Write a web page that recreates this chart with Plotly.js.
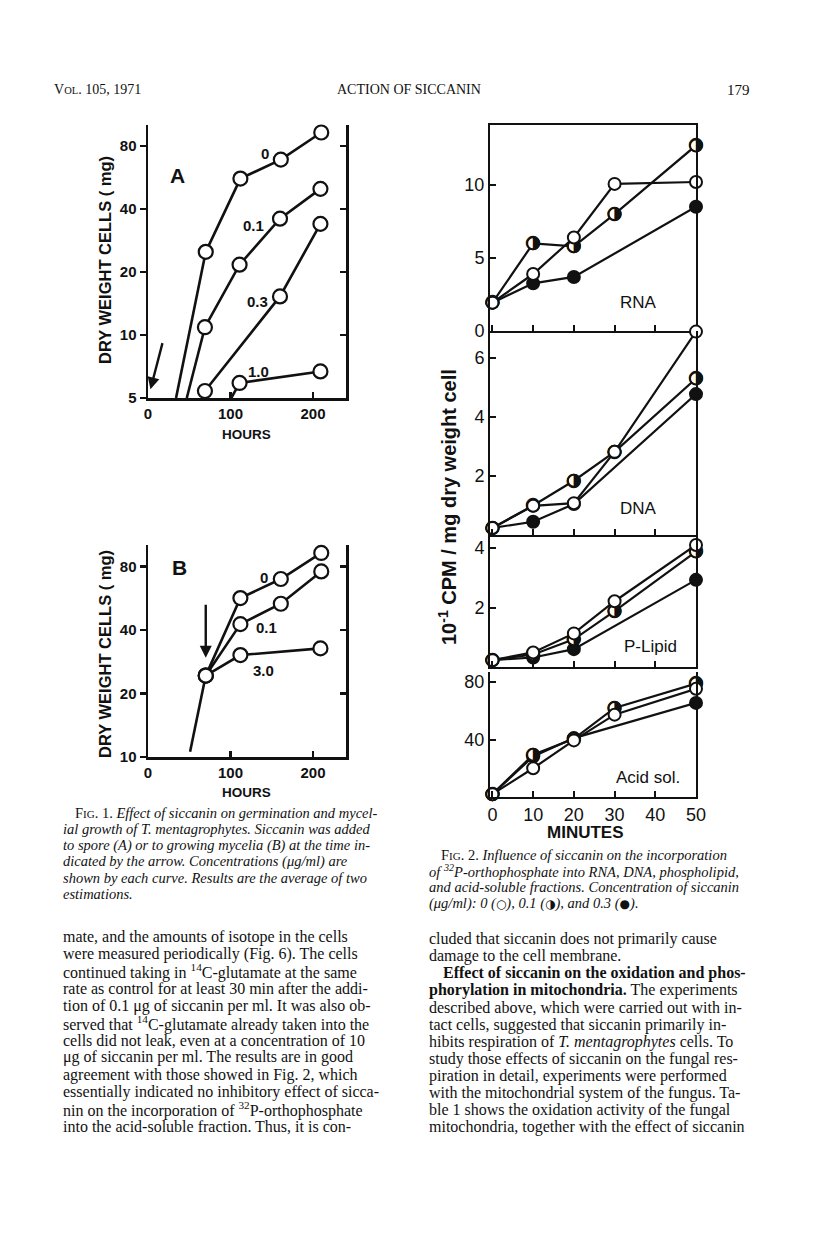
<!DOCTYPE html>
<html>
<head>
<meta charset="utf-8">
<script src="https://cdn.plot.ly/plotly-3.0.1.min.js"></script>
<style>
  html, body { margin: 0; padding: 0; background: #fff; }
  #page { width: 816px; height: 1260px; }
</style>
</head>
<body>
<div id="page"></div>
<script>
var pageDiv = document.getElementById('page');

// page is 816 x 1260, margins are zero so paper coords = pixels / size
var W = 816, H = 1260;
function px(x) { return x / W; }
function py(y) { return 1 - y / H; }
function lg(v) { return Math.log10(v); }

//---------------- Fig 1A: siccanin added to spores ----------------
var hoursA0 = [70, 112, 161, 210];
var weightA0 = [25, 56, 69, 93];
var leadA0x = [34, 70], leadA0y = [5, 25];

var hoursA01 = [69, 111, 160, 209];
var weightA01 = [10.9, 21.7, 36, 50];
var leadA01x = [47, 69], leadA01y = [5, 10.9];

var hoursA03 = [69, 160, 209];
var weightA03 = [5.4, 15.3, 34];

var hoursA10 = [111, 209];
var weightA10 = [5.9, 6.7];
var leadA10x = [101, 111], leadA10y = [5, 5.9];

//---------------- Fig 1B: siccanin added to growing mycelia ----------------
var hoursB = [70, 112, 161, 210];
var weightB0 = [24.3, 56.6, 69.7, 92.6];
var weightB01 = [24.3, 42.6, 53.2, 75.7];
var hoursB30 = [70, 112, 209];
var weightB30 = [24.3, 30.4, 32.7];
var leadBx = [51, 70], leadBy = [10.6, 24.3];

var fig1Ticks = [5, 10, 20, 40, 80];
var hourTicks = [0, 100, 200];

//---------------- Fig 2: 32P incorporation ----------------
var minutes = [0, 10, 20, 30, 50];
var minutesHi = [0, 10, 20, 50];   // 0.3 ug/ml has no 30 min point
var minuteTicks = [0, 10, 20, 30, 40, 50];

var rnaOpen = [1.94, 3.9, 6.4, 10.07, 10.2];
var rnaHalf = [1.94, 6.0, 5.8, 8.0, 12.7];
var rnaFull = [1.94, 3.26, 3.7, 8.5];

var dnaOpen = [0.24, 0.99, 1.08, 2.82, 6.9];
var dnaHalf = [0.24, 1.0, 1.84, 2.82, 5.31];
var dnaFull = [0.24, 0.45, 1.05, 4.78];

var lipOpen = [0.23, 0.49, 1.13, 2.21, 4.1];
var lipHalf = [0.23, 0.42, 0.93, 1.88, 3.88];
var lipFull = [0.23, 0.32, 0.6, 2.93];

var acidOpen = [2, 20, 39.4, 57.3, 75.3];
var acidHalf = [2, 29.4, 40.5, 62, 79];
var acidFull = [2, 28.2, 41, 65.5];

var INK = '#111';

//---------------- trace helpers ----------------
function lead(x, y, xa, ya) {
  return {x: x, y: y, xaxis: xa, yaxis: ya, mode: 'lines', hoverinfo: 'skip',
    line: {color: INK, width: 2.6}};
}
function fig1Curve(x, y, xa, ya) {
  return {x: x, y: y, xaxis: xa, yaxis: ya, mode: 'lines+markers', cliponaxis: false,
    line: {color: INK, width: 2.6},
    marker: {symbol: 'circle', size: 14, color: '#fff', line: {color: INK, width: 2.2}}};
}
function openTrace(x, y, xa, ya) {
  return {x: x, y: y, xaxis: xa, yaxis: ya, mode: 'lines+markers', cliponaxis: false,
    line: {color: INK, width: 2.2},
    marker: {symbol: 'circle', size: 12, color: '#fff', line: {color: INK, width: 2}}};
}
function fullTrace(x, y, xa, ya) {
  return {x: x, y: y, xaxis: xa, yaxis: ya, mode: 'lines+markers', cliponaxis: false,
    line: {color: INK, width: 2.2},
    marker: {symbol: 'circle', size: 12, color: INK, line: {color: INK, width: 2}}};
}
// half filled circle: white marker with the right-half-black glyph on top
function halfTrace(x, y, xa, ya) {
  return {x: x, y: y, xaxis: xa, yaxis: ya, mode: 'lines+markers+text', cliponaxis: false,
    text: y.map(function() { return '\u25D1'; }),
    textposition: 'middle center',
    textfont: {family: 'DejaVu Sans', size: 19, color: INK},
    line: {color: INK, width: 2.2},
    marker: {symbol: 'circle', size: 12, color: '#fff', line: {color: INK, width: 2}}};
}

var data = [
  // Fig 1A
  lead(leadA0x, leadA0y, 'x', 'y'),
  lead(leadA01x, leadA01y, 'x', 'y'),
  lead(leadA10x, leadA10y, 'x', 'y'),
  fig1Curve(hoursA0, weightA0, 'x', 'y'),
  fig1Curve(hoursA01, weightA01, 'x', 'y'),
  fig1Curve(hoursA03, weightA03, 'x', 'y'),
  fig1Curve(hoursA10, weightA10, 'x', 'y'),
  {x: [], y: [], xaxis: 'x', yaxis: 'y2'},
  // Fig 1B
  lead(leadBx, leadBy, 'x2', 'y3'),
  fig1Curve(hoursB30, weightB30, 'x2', 'y3'),
  fig1Curve(hoursB, weightB01, 'x2', 'y3'),
  fig1Curve(hoursB, weightB0, 'x2', 'y3'),
  {x: [], y: [], xaxis: 'x2', yaxis: 'y4'},
  // Fig 2 RNA
  fullTrace(minutesHi, rnaFull, 'x3', 'y5'),
  halfTrace(minutes, rnaHalf, 'x3', 'y5'),
  openTrace(minutes, rnaOpen, 'x3', 'y5'),
  // DNA
  fullTrace(minutesHi, dnaFull, 'x4', 'y6'),
  halfTrace(minutes, dnaHalf, 'x4', 'y6'),
  openTrace(minutes, dnaOpen, 'x4', 'y6'),
  // P-Lipid
  fullTrace(minutesHi, lipFull, 'x5', 'y7'),
  halfTrace(minutes, lipHalf, 'x5', 'y7'),
  openTrace(minutes, lipOpen, 'x5', 'y7'),
  // Acid soluble
  fullTrace(minutesHi, acidFull, 'x6', 'y8'),
  halfTrace(minutes, acidHalf, 'x6', 'y8'),
  openTrace(minutes, acidOpen, 'x6', 'y8')
];

//---------------- axis helpers ----------------
var boldTick = {family: 'Liberation Sans', size: 15, weight: 'bold', color: INK};
var plainTick = {family: 'Liberation Sans', size: 18, color: INK};

function fig1X(anchor) {
  return {domain: [px(148), px(346)], range: [0, 240], anchor: anchor,
    showline: true, linewidth: 2.5, linecolor: INK, showgrid: false, zeroline: false,
    ticks: 'inside', ticklen: 6, tickwidth: 2.5, tickcolor: INK,
    tickvals: hourTicks, tickfont: boldTick};
}
function fig1Y(top, bottom, lo, hi, anchor, vals) {
  return {domain: [py(bottom), py(top)], type: 'log', range: [lg(lo), lg(hi)], anchor: anchor,
    showline: true, linewidth: 2.5, linecolor: INK, showgrid: false, zeroline: false,
    ticks: 'outside', ticklen: 6, tickwidth: 2.5, tickcolor: INK,
    tickvals: vals, ticktext: vals.map(String), tickfont: boldTick};
}
function fig1Right(over, lo, hi, anchor, vals) {
  return {overlaying: over, side: 'right', type: 'log', range: [lg(lo), lg(hi)], anchor: anchor,
    showline: true, linewidth: 2.5, linecolor: INK, showgrid: false, zeroline: false,
    ticks: 'inside', ticklen: 6, tickwidth: 2.5, tickcolor: INK,
    tickvals: vals, showticklabels: false};
}
function fig2X(anchor, labels, top) {
  return {domain: [px(490), px(696)], range: [-0.6, 50], anchor: anchor,
    showline: true, linewidth: 2, linecolor: INK, mirror: top, showgrid: false, zeroline: false,
    ticks: 'inside', ticklen: 6, tickwidth: 2, tickcolor: INK,
    tickvals: minuteTicks, showticklabels: labels, tickfont: plainTick};
}
function fig2Y(top, bottom, hi, anchor, vals) {
  return {domain: [py(bottom), py(top)], range: [0, hi], anchor: anchor,
    showline: true, linewidth: 2, linecolor: INK, mirror: true, showgrid: false, zeroline: false,
    ticks: 'inside', ticklen: 6, tickwidth: 2, tickcolor: INK,
    tickvals: vals, tickfont: plainTick};
}

//---------------- text ----------------
var serif = 'Liberation Serif';
function note(txt, x, y, opts) {
  var a = {text: txt, x: x, y: y, xref: 'paper', yref: 'paper', showarrow: false,
    xanchor: 'left', yanchor: 'middle',
    font: {family: serif, size: 16, color: INK}};
  for (var k in (opts || {})) a[k] = opts[k];
  return a;
}
function label(txt, x, y, size, bold, angle) {
  return {text: txt, xref: 'paper', yref: 'paper', x: px(x), y: py(y), showarrow: false,
    xanchor: 'center', yanchor: 'middle', textangle: angle || 0,
    font: {family: 'Liberation Sans', size: size, weight: bold ? 'bold' : 'normal', color: INK}};
}
function dataNote(txt, xa, ya, x, y, size) {
  return {text: txt, xref: xa, yref: ya, x: x, y: y, showarrow: false,
    xanchor: 'center', yanchor: 'middle',
    font: {family: 'Liberation Sans', size: size, weight: 'bold', color: INK}};
}

var sc = function(s, n) { return '<span style="font-size:' + (n || 11) + 'px">' + s + '</span>'; };
var glyph = function(s) { return '<span style="font-family:DejaVu Sans;font-size:12px">' + s + '</span>'; };

var cap1 = [
  'F' + sc('IG') + '. 1. <i>Effect of siccanin on germination and mycel-</i>',
  '<i>ial growth of T. mentagrophytes. Siccanin was added</i>',
  '<i>to spore (A) or to growing mycelia (B) at the time in-</i>',
  '<i>dicated by the arrow. Concentrations (\u03BCg/ml) are</i>',
  '<i>shown by each curve. Results are the average of two</i>',
  '<i>estimations.</i>'
];
var cap2 = [
  'F' + sc('IG') + '. 2. <i>Influence of siccanin on the incorporation</i>',
  '<i>of <sup>32</sup>P-orthophosphate into RNA, DNA, phospholipid,</i>',
  '<i>and acid-soluble fractions. Concentration of siccanin</i>',
  '<i>(\u03BCg/ml): 0 (</i>' + glyph('\u25CB') + '<i>), 0.1 (</i>' + glyph('\u25D1') +
    '<i>), and 0.3 (</i>' + glyph('\u25CF') + '<i>).</i>'
];
var bodyLeft = [
  'mate, and the amounts of isotope in the cells',
  'were measured periodically (Fig. 6). The cells',
  'continued taking in <sup>14</sup>C-glutamate at the same',
  'rate as control for at least 30 min after the addi-',
  'tion of 0.1 \u03BCg of siccanin per ml. It was also ob-',
  'served that <sup>14</sup>C-glutamate already taken into the',
  'cells did not leak, even at a concentration of 10',
  '\u03BCg of siccanin per ml. The results are in good',
  'agreement with those showed in Fig. 2, which',
  'essentially indicated no inhibitory effect of sicca-',
  'nin on the incorporation of <sup>32</sup>P-orthophosphate',
  'into the acid-soluble fraction. Thus, it is con-'
];
var bodyRight = [
  'cluded that siccanin does not primarily cause',
  'damage to the cell membrane.',
  '<b>Effect of siccanin on the oxidation and phos-</b>',
  '<b>phorylation in mitochondria.</b> The experiments',
  'described above, which were carried out with in-',
  'tact cells, suggested that siccanin primarily in-',
  'hibits respiration of <i>T. mentagrophytes</i> cells. To',
  'study those effects of siccanin on the fungal res-',
  'piration in detail, experiments were performed',
  'with the mitochondrial system of the fungus. Ta-',
  'ble 1 shows the oxidation activity of the fungal',
  'mitochondria, together with the effect of siccanin'
];

var annotations = [
  note('V' + sc('OL', 10.5) + '. 105, 1971', px(52), py(90), {font: {family: serif, size: 14, color: INK}}),
  note('ACTION OF SICCANIN', px(409), py(90), {xanchor: 'center', font: {family: serif, size: 14, color: INK}}),
  note('179', px(752), py(90), {xanchor: 'right', font: {family: serif, size: 15, color: INK}}),

  // Fig 1 axis titles
  label('DRY WEIGHT CELLS ( mg)', 105, 260, 16.5, true, -90),
  label('HOURS', 246, 434, 13.5, true),
  label('DRY WEIGHT CELLS ( mg)', 105, 654, 16.5, true, -90),
  label('HOURS', 246, 792, 13.5, true),

  // Fig 1A curve labels and arrow
  dataNote('A', 'x', 'y', 36, lg(57.7), 21),
  dataNote('0', 'x', 'y', 142, lg(73.5), 15),
  dataNote('0.1', 'x', 'y', 128, lg(33.3), 15),
  dataNote('0.3', 'x', 'y', 133, lg(14.5), 15),
  dataNote('1.0', 'x', 'y', 134, lg(6.66), 15),
  {xref: 'x', yref: 'y', x: 3, y: lg(5.5), axref: 'x', ayref: 'y', ax: 18, ay: lg(9.3),
    text: '', showarrow: true, arrowhead: 2, arrowsize: 1, arrowwidth: 2.4, arrowcolor: INK},

  // Fig 1B curve labels and arrow
  dataNote('B', 'x2', 'y3', 38, lg(79.4), 21),
  dataNote('0', 'x2', 'y3', 141, lg(71.2), 15),
  dataNote('0.1', 'x2', 'y3', 144, lg(41.2), 15),
  dataNote('3.0', 'x2', 'y3', 140, lg(25.6), 15),
  {xref: 'x2', yref: 'y3', x: 70, y: lg(29.5), axref: 'x2', ayref: 'y3', ax: 70, ay: lg(53.5),
    text: '', showarrow: true, arrowhead: 2, arrowsize: 1, arrowwidth: 2.4, arrowcolor: INK},

  // Fig 2 panel labels and titles
  label('RNA', 638, 302, 17, false),
  label('DNA', 638, 508, 17, false),
  label('P-Lipid', 650, 647, 17, false),
  label('Acid sol.', 648, 777, 17, false),
  label('10<sup>-1</sup> CPM / mg dry weight cell', 447, 507, 20, true, -90),
  label('MINUTES', 585, 832, 17, true)
];

var capFont = {family: serif, size: 14.5, color: INK};
cap1.forEach(function(t, i) {
  annotations.push(note(t, px(i === 0 ? 73 : 61), py(813 + i * 16.2), {font: capFont}));
});
cap2.forEach(function(t, i) {
  annotations.push(note(t, px(i === 0 ? 439 : 427), py(855 + i * 16.2), {font: capFont}));
});
bodyLeft.forEach(function(t, i) {
  annotations.push(note(t, px(61), py(937 + i * 17.2)));
});
bodyRight.forEach(function(t, i) {
  annotations.push(note(t, px(i === 2 ? 441 : 427), py(939 + i * 17.1)));
});

var layout = {
  width: W, height: H,
  margin: {l: 0, r: 0, t: 0, b: 0},
  paper_bgcolor: '#ffffff', plot_bgcolor: 'rgba(0,0,0,0)',
  showlegend: false,
  font: {family: 'Liberation Sans', color: INK},
  xaxis: fig1X('y'),
  yaxis: fig1Y(125, 398, 5, 101, 'x', fig1Ticks),
  yaxis2: fig1Right('y', 5, 101, 'x', fig1Ticks),
  xaxis2: fig1X('y3'),
  yaxis3: fig1Y(545, 757, 10, 101, 'x2', fig1Ticks.slice(1)),
  yaxis4: fig1Right('y3', 10, 101, 'x2', fig1Ticks.slice(1)),
  xaxis3: fig2X('y5', false, true),
  yaxis5: fig2Y(125, 331, 14.1, 'x3', [0, 5, 10]),
  xaxis4: fig2X('y6', false, false),
  yaxis6: fig2Y(331, 535, 6.92, 'x4', [2, 4, 6]),
  xaxis5: fig2X('y7', false, false),
  yaxis7: fig2Y(537, 667, 4.37, 'x5', [2, 4]),
  xaxis6: fig2X('y8', true, false),
  yaxis8: fig2Y(672, 797, 87, 'x6', [40, 80]),
  annotations: annotations
};

Plotly.newPlot(pageDiv, data, layout, {staticPlot: true});
</script>
</body>
</html>
